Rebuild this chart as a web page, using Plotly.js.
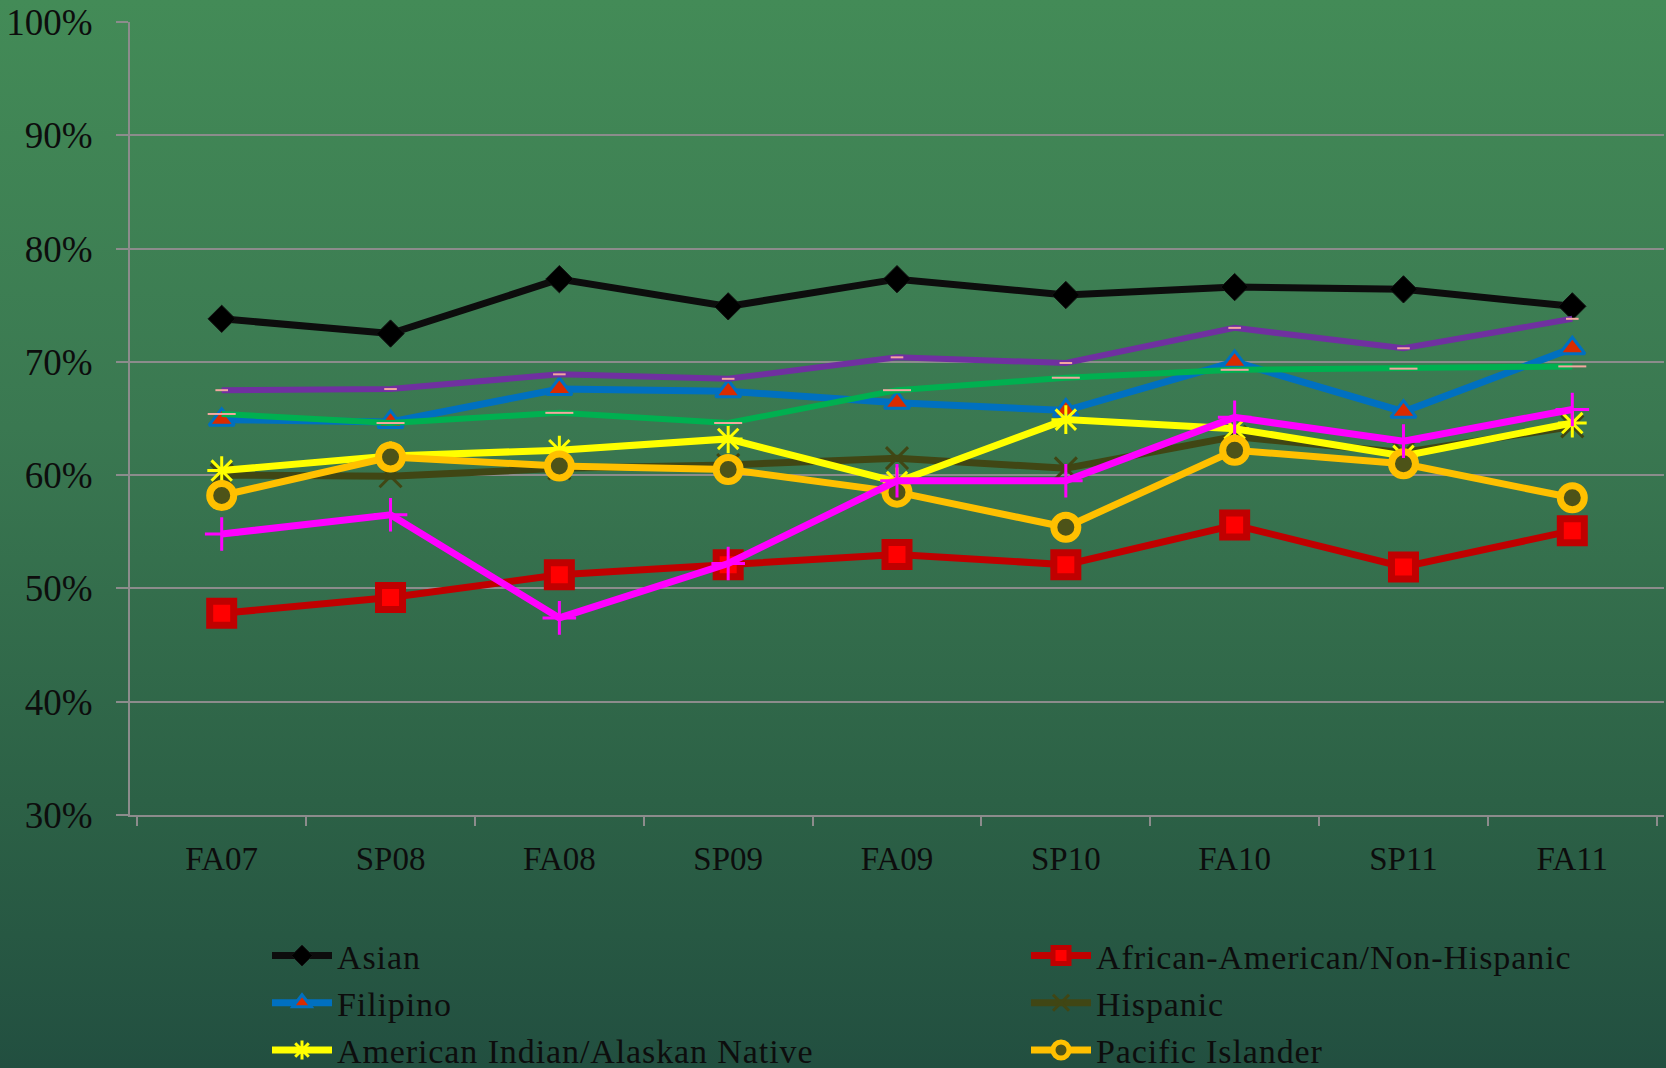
<!DOCTYPE html>
<html>
<head>
<meta charset="utf-8">
<script src="https://cdn.plot.ly/plotly-3.0.1.min.js"></script>
<style>
html, body { margin:0; padding:0; overflow:hidden; }
body { width:1666px; height:1068px; background: linear-gradient(to bottom, #438b57 0%, #3a7851 40%, #2c6146 75%, #224f40 100%); }
#chart { width:1666px; height:1068px; }
#chart .legend .legendtext { letter-spacing: 0.9px; }
</style>
</head>
<body>
<div id="chart"></div>
<script>
const terms = ["FA07","SP08","FA08","SP09","FA09","SP10","FA10","SP11","FA11"];

const asian        = [73.8, 72.5, 77.3, 74.9, 77.3, 75.9, 76.6, 76.4, 74.9];
const africanAm    = [47.8, 49.2, 51.2, 52.1, 53.0, 52.1, 55.6, 51.9, 55.1];
const filipino     = [64.9, 64.7, 67.6, 67.4, 66.4, 65.7, 70.0, 65.6, 71.2];
const hispanic     = [60.0, 59.9, 60.6, 60.9, 61.5, 60.6, 63.4, 62.0, 64.3];
const amIndian     = [60.4, 61.7, 62.2, 63.2, 59.4, 64.9, 64.1, 61.7, 64.6];
const pacific      = [58.2, 61.6, 60.8, 60.5, 58.5, 55.4, 62.2, 61.0, 58.0];
const seriesPurple = [67.5, 67.6, 68.9, 68.5, 70.4, 69.9, 73.0, 71.2, 73.8];
const seriesGreen  = [65.4, 64.6, 65.5, 64.6, 67.5, 68.6, 69.3, 69.4, 69.6];
const seriesMagenta= [54.8, 56.5, 47.4, 52.2, 59.5, 59.5, 65.1, 63.0, 65.8];

const FONT = "Liberation Serif, Times New Roman, serif";

function tr(name, y, lineColor, lineWidth, marker, showlegend) {
  return {
    type: "scatter", mode: "lines+markers", name: name,
    x: terms, y: y,
    line: {color: lineColor, width: lineWidth},
    marker: marker,
    showlegend: showlegend !== false,
    hoverinfo: "x+y+name"
  };
}

const traces = [
  tr("Asian", asian, "#0d0d0d", 7,
     {symbol:"diamond", size:21, color:"#000000", line:{color:"#111111", width:1}}),
  tr("African-American/Non-Hispanic", africanAm, "#c00000", 7,
     {symbol:"square", size:24, color:"#ff0000", line:{color:"#c00000", width:7}}),
  tr("Filipino", filipino, "#0070c0", 7,
     {symbol:"triangle-up", size:22, color:"#d92b00", line:{color:"#0070c0", width:3}}),
  tr("Hispanic", hispanic, "#404614", 7,
     {symbol:"x-thin-open", size:22, color:"#404614", line:{color:"#404614", width:3}}),
  tr("American Indian/Alaskan Native", amIndian, "#ffff00", 7,
     {symbol:"asterisk-open", size:24, color:"#ffff00", line:{color:"#ffff00", width:3}}),
  tr("Pacific Islander", pacific, "#ffc000", 7,
     {symbol:"circle", size:24, color:"#4d5318", line:{color:"#ffc000", width:7}}),
  tr("White", seriesPurple, "#7030a0", 6,
     {symbol:"line-ew-open", size:9, color:"#f4a7a0", line:{color:"#f4a7a0", width:2}}, false),
  tr("Other", seriesGreen, "#00b050", 6,
     {symbol:"line-ew-open", size:20, color:"#f4a7a0", line:{color:"#f4a7a0", width:2}}, false),
  tr("Unknown", seriesMagenta, "#ff00ff", 7,
     {symbol:"cross-thin-open", size:24, color:"#ff00ff", line:{color:"#ff00ff", width:3}}, false)
];

const layout = {
  width: 1666, height: 1068,
  paper_bgcolor: "rgba(0,0,0,0)",
  plot_bgcolor: "rgba(0,0,0,0)",
  margin: {l:130, r:2, t:22, b:253, pad:0},
  font: {family: FONT, color:"#0d0d0d"},
  showlegend: true,
  xaxis: {
    type: "category",
    tickson: "boundaries",
    ticks: "outside", ticklen: 9, tickwidth: 2, tickcolor: "#8c8c8c",
    showline: true, linecolor: "#8c8c8c", linewidth: 2,
    showgrid: false, zeroline: false,
    tickfont: {family: FONT, size: 33, color:"#0d0d0d"},
    ticklabelstandoff: 13
  },
  yaxis: {
    range: [30, 100],
    dtick: 10, tick0: 30,
    ticksuffix: "%",
    ticks: "outside", ticklen: 12, tickwidth: 2, tickcolor: "#8c8c8c",
    showline: true, linecolor: "#8c8c8c", linewidth: 2,
    showgrid: true, gridcolor: "#8c8c8c", gridwidth: 2,
    zeroline: false,
    tickfont: {family: FONT, size: 37, color:"#0d0d0d"},
    ticklabelstandoff: 16
  },
  legend: {
    orientation: "h",
    xref: "container", yref: "container",
    x: 267/1666, xanchor: "left",
    y: 1 - 927/1068, yanchor: "top",
    bgcolor: "rgba(0,0,0,0)",
    borderwidth: 0,
    itemwidth: 60,
    entrywidth: 684,
    traceorder: "normal",
    font: {family: FONT, size: 34, color:"#0d0d0d"}
  }
};

Plotly.newPlot("chart", traces, layout, {displayModeBar:false, staticPlot:true});
</script>
</body>
</html>
